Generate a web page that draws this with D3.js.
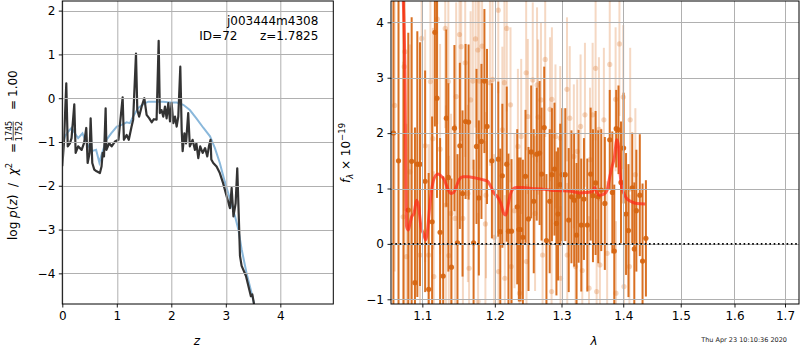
<!DOCTYPE html>
<html>
<head>
<meta charset="utf-8">
<script src="https://cdn.jsdelivr.net/npm/d3@7"></script>
<style>
body { margin: 0; background: #fff; }
text { font-family: "DejaVu Sans", sans-serif; }
</style>
</head>
<body>
<script>
// ---- p(z) panel ----
var pzZ = [0.00, 0.03, 0.073, 0.10, 0.14, 0.17, 0.22, 0.245, 0.29, 0.355, 0.40, 0.44, 0.465, 0.50, 0.52, 0.55, 0.587, 0.63, 0.69, 0.72, 0.74, 0.765, 0.795, 0.81, 0.86, 0.905, 0.966, 1.03, 1.107, 1.13, 1.18, 1.22, 1.27, 1.30, 1.352, 1.376, 1.41, 1.456, 1.505, 1.547, 1.596, 1.64, 1.68, 1.73, 1.768, 1.79, 1.82, 1.853, 1.884, 1.914, 1.945, 1.976, 2.006, 2.037, 2.068, 2.098, 2.128, 2.165, 2.19, 2.208, 2.24, 2.27, 2.31, 2.34, 2.39, 2.434, 2.46, 2.495, 2.53, 2.575, 2.62, 2.66, 2.69, 2.72, 2.734, 2.77, 2.83, 2.89, 2.95, 3.015, 3.076, 3.107, 3.14, 3.18, 3.21, 3.236, 3.26, 3.29, 3.37, 3.43, 3.46, 3.486, 3.517];
var pzLog = [-1.55, -1.02, 0.34, -1.10, -1.03, -0.91, -0.14, -1.25, -1.10, -1.18, -1.02, -0.68, -1.48, -1.25, -0.46, -1.48, -1.63, -1.67, -1.71, -1.56, -1.25, -1.33, -0.23, -1.18, -1.03, -1.10, -0.99, -0.95, 0.02, -0.95, -0.84, -0.95, -0.65, -0.49, 1.02, -0.27, -0.42, -0.19, 0.00, -0.38, -0.46, -0.55, -0.48, -0.49, 1.31, -0.34, -0.27, -0.42, -0.19, -0.46, -0.11, -0.53, -0.11, -0.57, -0.42, -0.65, -0.42, 0.72, -0.72, -1.21, -0.80, -1.03, -0.34, -1.10, -0.95, -1.18, -1.03, -1.37, -1.10, -1.25, -1.14, -1.33, -1.10, -0.95, -1.40, -1.48, -1.56, -1.71, -1.94, -2.24, -2.51, -2.05, -2.70, -2.40, -1.60, -2.62, -3.60, -3.83, -4.06, -4.37, -4.52, -4.48, -4.70];

var fitZ = [0.00, 0.05, 0.11, 0.17, 0.23, 0.29, 0.37, 0.45, 0.54, 0.62, 0.68, 0.72, 0.81, 0.90, 1.00, 1.09, 1.18, 1.24, 1.30, 1.39, 1.49, 1.58, 1.70, 1.85, 1.98, 2.10, 2.22, 2.34, 2.46, 2.59, 2.71, 2.80, 2.89, 2.98, 3.08, 3.17, 3.23, 3.29, 3.38, 3.47, 3.52];
var fitLog = [-1.10, -0.87, -0.76, -0.68, -0.80, -0.91, -0.80, -1.03, -1.21, -1.18, -1.47, -1.29, -0.95, -0.80, -0.65, -0.61, -0.55, -0.57, -0.42, -0.23, -0.13, -0.08, -0.08, -0.08, -0.10, -0.10, -0.15, -0.27, -0.46, -0.68, -0.87, -1.14, -1.48, -1.90, -2.32, -2.70, -3.00, -3.45, -3.99, -4.44, -4.70];

var zTicks = [0, 1, 2, 3, 4];
var logpTicks = [-4, -3, -2, -1, 0, 1, 2];

// ---- spectrum panel ----
var darkWave = [1.0625, 1.0690, 1.0755, 1.0816, 1.0860, 1.0903, 1.0934, 1.0969, 1.1037, 1.1084, 1.1130, 1.1167, 1.1195, 1.1237, 1.1279, 1.1321, 1.1349, 1.1391, 1.1432, 1.1474, 1.1507, 1.1544, 1.1586, 1.1628, 1.1698, 1.1739, 1.1772, 1.1809, 1.1851, 1.1888, 1.1958, 1.2050, 1.2079, 1.2109, 1.2173, 1.2198, 1.2243, 1.2327, 1.2351, 1.2376, 1.2411, 1.2450, 1.2495, 1.2535, 1.2574, 1.2619, 1.2663, 1.2693, 1.2733, 1.2767, 1.2817, 1.2851, 1.2891, 1.2921, 1.2946, 1.2980, 1.3011, 1.3059, 1.3113, 1.3156, 1.3199, 1.3237, 1.3269, 1.3312, 1.3355, 1.3409, 1.3463, 1.3500, 1.3543, 1.3586, 1.3635, 1.3694, 1.3775, 1.3818, 1.3850, 1.3882, 1.3920, 1.3962, 1.4006, 1.4047, 1.4088, 1.4152, 1.4187, 1.4222, 1.4281, 1.4328, 1.4386];
var darkFlux = [2.00, 1.50, 4.80, 0.61, 1.49, -0.70, 1.44, 1.44, 1.13, -0.82, 0.40, 3.82, 2.63, 0.21, -0.58, 2.27, 1.20, -0.42, 2.09, 0.02, 1.77, 0.91, 2.21, 2.20, 0.02, 1.76, 0.83, 1.85, 2.94, 2.12, 1.50, 1.53, 0.22, 1.23, 1.44, 0.23, 0.23, 0.67, 0.26, 0.26, 0.12, 1.22, 0.45, 1.66, 0.77, 1.62, 1.64, 1.26, 2.10, 0.06, 0.77, 1.25, 1.35, 0.37, 0.54, 1.07, 1.25, 1.25, 0.43, 0.85, 0.79, 0.16, 0.86, 0.34, 0.81, 0.34, 1.26, 0.87, 1.10, 0.85, 0.97, 0.73, 1.88, 0.93, -0.13, 2.08, 2.06, 1.11, 1.73, 0.54, 0.24, 1.01, -0.09, 0.60, 0.88, -0.31, 0.10];
var darkErr = [6.5, 6.0, 6.0, 3.2, 2.6, 2.8, 2.4, 2.2, 2.0, 2.1, 1.9, 1.7, 1.8, 1.7, 1.8, 1.6, 1.7, 1.6, 1.5, 1.6, 1.5, 1.5, 1.4, 1.4, 1.5, 1.4, 1.4, 1.4, 1.3, 1.4, 1.4, 1.4, 1.5, 1.3, 1.4, 1.4, 1.3, 1.4, 1.3, 1.3, 1.4, 1.2, 1.3, 1.2, 1.3, 1.2, 1.3, 1.2, 1.1, 1.2, 1.3, 1.2, 1.2, 1.3, 1.2, 1.1, 1.2, 1.2, 1.3, 1.2, 1.2, 1.3, 1.2, 1.2, 1.1, 1.2, 1.2, 1.2, 1.3, 1.2, 1.1, 1.2, 0.9, 1.1, 1.2, 0.7, 0.8, 1.1, 1.0, 1.1, 1.2, 1.0, 1.2, 1.1, 1.1, 1.4, 1.05];

var lightWave = [1.0640, 1.0750, 1.0763, 1.0772, 1.0794, 1.0838, 1.0969, 1.0991, 1.1037, 1.1084, 1.1107, 1.1140, 1.1153, 1.1200, 1.1237, 1.1307, 1.1316, 1.1349, 1.1355, 1.1386, 1.1442, 1.1456, 1.1502, 1.1525, 1.1549, 1.1581, 1.1618, 1.1635, 1.1656, 1.1688, 1.1725, 1.1758, 1.1762, 1.1781, 1.1818, 1.1865, 1.1874, 1.1930, 1.1967, 1.1991, 1.2050, 1.2054, 1.2109, 1.2139, 1.2145, 1.2173, 1.2228, 1.2238, 1.2287, 1.2337, 1.2361, 1.2386, 1.2460, 1.2465, 1.2485, 1.2559, 1.2594, 1.2624, 1.2640, 1.2683, 1.2708, 1.2748, 1.2822, 1.2846, 1.2851, 1.2906, 1.2980, 1.2985, 1.3086, 1.3090, 1.3129, 1.3194, 1.3220, 1.3247, 1.3301, 1.3328, 1.3371, 1.3436, 1.3452, 1.3495, 1.3543, 1.3560, 1.3597, 1.3613, 1.3678, 1.3732, 1.3775, 1.3872, 1.3878, 1.3936, 1.4000, 1.4012, 1.4104, 1.4117, 1.4205];
var lightFlux = [2.50, 0.49, 3.20, 3.47, -0.23, 1.30, -0.20, 3.71, 1.77, -0.20, 2.93, 1.90, -0.59, 4.06, 1.71, 3.89, 0.70, 2.93, -0.21, 0.55, 0.46, 2.66, 3.78, 3.56, 0.46, 3.27, 0.91, -0.44, 2.60, 2.94, 3.70, 3.50, -1.04, 2.94, 3.57, 0.36, 0.88, 2.91, 2.97, 0.12, 4.22, -0.50, 2.06, 2.91, -0.62, 3.89, 2.51, -0.41, 0.60, 1.76, -0.89, 1.94, 3.09, -0.32, 2.30, 2.96, 0.55, 2.87, 2.29, 2.60, -0.20, 3.33, 2.43, -0.86, 2.61, 1.94, 1.91, -0.62, 2.79, -0.20, 2.27, 1.58, -0.41, 1.67, 2.12, -0.48, 2.33, -0.80, 1.52, 2.33, 3.17, -0.86, 2.07, -0.38, 2.24, -0.17, 3.24, 2.61, -0.89, 3.61, 2.65, -0.77, -0.41, 2.24, 1.25];
var lightErr = [3.0, 2.8, 2.6, 2.5, 2.4, 2.3, 2.2, 2.2, 2.1, 2.0, 2.0, 2.0, 1.9, 1.9, 1.9, 1.8, 1.8, 1.8, 1.8, 1.8, 1.7, 1.7, 1.7, 1.7, 1.7, 1.7, 1.6, 1.6, 1.6, 1.6, 1.6, 1.6, 1.6, 1.6, 1.5, 1.5, 1.5, 1.5, 1.5, 1.5, 1.5, 1.5, 1.5, 1.5, 1.5, 1.5, 1.4, 1.4, 1.4, 1.4, 1.4, 1.4, 1.4, 1.4, 1.4, 1.4, 1.4, 1.4, 1.4, 1.4, 1.4, 1.4, 1.3, 1.3, 1.3, 1.3, 1.3, 1.3, 1.3, 1.3, 1.3, 1.3, 1.3, 1.3, 1.3, 1.3, 1.3, 1.3, 1.3, 1.3, 1.3, 1.3, 1.3, 1.3, 1.3, 1.3, 1.3, 1.3, 1.3, 1.3, 1.3, 1.3, 1.3, 1.3, 1.2];

var modelWave = [1.0745, 1.0772, 1.0794, 1.0816, 1.0838, 1.0860, 1.0890, 1.0925, 1.0952, 1.0982, 1.1014, 1.1047, 1.1070, 1.1098, 1.1130, 1.1167, 1.1209, 1.1246, 1.1293, 1.1339, 1.1386, 1.1423, 1.1456, 1.1502, 1.1549, 1.1618, 1.1688, 1.1758, 1.1828, 1.1897, 1.1944, 1.1991, 1.2040, 1.2089, 1.2129, 1.2158, 1.2188, 1.2223, 1.2262, 1.2312, 1.2411, 1.2535, 1.2683, 1.2832, 1.2980, 1.3140, 1.3301, 1.3409, 1.3490, 1.3527, 1.3560, 1.3597, 1.3678, 1.3732, 1.3775, 1.3812, 1.3850, 1.3893, 1.3920, 1.3946, 1.3973, 1.4012, 1.4058, 1.4144, 1.4230, 1.4374];
var modelFlux = [4.60, 3.20, 0.31, 0.25, 0.37, 0.49, 0.55, 0.79, 0.67, 0.31, 0.19, 0.07, 0.25, 0.67, 1.03, 1.21, 1.26, 1.23, 1.16, 1.00, 0.91, 0.93, 1.03, 1.17, 1.21, 1.21, 1.20, 1.18, 1.16, 1.13, 1.03, 0.91, 0.85, 0.73, 0.55, 0.52, 0.67, 0.88, 0.99, 1.02, 1.02, 1.00, 0.99, 0.97, 0.96, 0.95, 0.92, 0.93, 0.94, 1.02, 0.94, 0.88, 0.90, 0.97, 1.21, 1.39, 1.55, 1.88, 1.76, 1.28, 1.03, 0.91, 0.82, 0.76, 0.73, 0.72];

var waveTicks = [1.1, 1.2, 1.3, 1.4, 1.5, 1.6, 1.7];
var fluxTicks = [-1, 0, 1, 2, 3, 4];

var orange = "#d6640f";

var svg = d3.select("body").append("svg")
    .attr("width", 800)
    .attr("height", 350);

function styleAxis(g)
{
  g.attr("font-family", "DejaVu Sans, sans-serif").attr("font-size", 12);
  g.select(".domain").remove();
  g.selectAll(".tick line").attr("stroke", "#000").attr("stroke-width", 0.9);
  g.selectAll(".tick text").attr("fill", "#000");
}

// ================= left panel =================
var lp = { left: 62.3, top: 1, width: 271, height: 303 };

var gl = svg.append("g")
    .attr("transform", "translate(" + lp.left + "," + lp.top + ")");

var x1 = d3.scaleLinear().domain([0, 4.972]).range([0, lp.width]);
var y1 = d3.scaleLinear().domain([-4.70, 2.22]).range([lp.height, 0]);

gl.append("clipPath").attr("id", "clipL")
    .append("rect").attr("width", lp.width).attr("height", lp.height);

var plotL = gl.append("g").attr("clip-path", "url(#clipL)");

var lineL = d3.line()
    .x(function(d) { return x1(d[0]); })
    .y(function(d) { return y1(d[1]); });

plotL.append("path")
    .datum(d3.zip(fitZ, fitLog))
    .attr("d", lineL)
    .attr("fill", "none")
    .attr("stroke", "#8ab8db")
    .attr("stroke-width", 2);

plotL.append("path")
    .datum(d3.zip(pzZ, pzLog))
    .attr("d", lineL)
    .attr("fill", "none")
    .attr("stroke", "#333")
    .attr("stroke-width", 2.2)
    .attr("stroke-linejoin", "round");

// grid
gl.selectAll(".gx").data(zTicks).enter().append("line")
    .attr("x1", function(d) { return Math.round(x1(d)) + 0.5; })
    .attr("x2", function(d) { return Math.round(x1(d)) + 0.5; })
    .attr("y1", 0).attr("y2", lp.height)
    .attr("stroke", "#b0b0b0").attr("stroke-width", 1);
gl.selectAll(".gy").data(logpTicks).enter().append("line")
    .attr("y1", function(d) { return Math.round(y1(d)) + 0.5; })
    .attr("y2", function(d) { return Math.round(y1(d)) + 0.5; })
    .attr("x1", 0).attr("x2", lp.width)
    .attr("stroke", "#b0b0b0").attr("stroke-width", 1);

gl.append("g")
    .attr("transform", "translate(0," + lp.height + ")")
    .call(d3.axisBottom(x1).tickValues(zTicks).tickSize(3.5).tickPadding(3.5).tickFormat(d3.format("d")))
    .call(styleAxis);

gl.append("g")
    .call(d3.axisLeft(y1).tickValues(logpTicks).tickSize(3.5).tickPadding(3.5).tickFormat(d3.format("d")))
    .call(styleAxis);

gl.append("rect")
    .attr("width", lp.width).attr("height", lp.height)
    .attr("fill", "none").attr("stroke", "#000").attr("stroke-width", 1);

gl.append("text")
    .attr("x", 256).attr("y", 24)
    .attr("text-anchor", "end").attr("font-size", 12)
    .text("j003444m4308");
gl.append("text")
    .attr("x", 137).attr("y", 38.5)
    .attr("font-size", 12)
    .text("ID=72");
gl.append("text")
    .attr("x", 256).attr("y", 38.5)
    .attr("text-anchor", "end").attr("font-size", 12)
    .text("z=1.7825");

// x label
svg.append("text")
    .attr("x", 197).attr("y", 345)
    .attr("text-anchor", "middle").attr("font-size", 12)
    .attr("font-style", "italic")
    .text("z");

// y label (rotated, with fraction)
var yl = svg.append("g").attr("transform", "translate(17,240) rotate(-90)");
var t1 = yl.append("text").attr("x", 0).attr("y", 0).attr("font-size", 12)
    .attr("xml:space", "preserve");
t1.append("tspan").text("log ");
t1.append("tspan").attr("font-style", "italic").text("p");
t1.append("tspan").text("(");
t1.append("tspan").attr("font-style", "italic").text("z");
t1.append("tspan").text(")  /  ");
t1.append("tspan").attr("font-style", "italic").text("\u03c7");
t1.append("tspan").attr("font-size", 8.5).attr("dy", -5).text("2");
yl.append("text").attr("x", 87).attr("y", 0).attr("font-size", 12).text("=");
yl.append("text").attr("x", 109).attr("y", -5.5).attr("font-size", 8)
    .attr("text-anchor", "middle").text("1745");
yl.append("text").attr("x", 109).attr("y", 4.5).attr("font-size", 8)
    .attr("text-anchor", "middle").text("1752");
yl.append("line")
    .attr("x1", 99.5).attr("x2", 118.5)
    .attr("y1", -3.8).attr("y2", -3.8)
    .attr("stroke", "#000").attr("stroke-width", 0.7);
yl.append("text").attr("x", 130).attr("y", 0).attr("font-size", 12).text("=");
yl.append("text").attr("x", 143).attr("y", 0).attr("font-size", 12).text("1.00");

// ================= right panel =================
var rp = { left: 391, top: 1, width: 408, height: 303 };

var gr = svg.append("g")
    .attr("transform", "translate(" + rp.left + "," + rp.top + ")");

var x2 = d3.scaleLog().domain([1.0594, 1.7288]).range([0, rp.width]);
var y2 = d3.scaleLinear().domain([-1.085, 4.385]).range([rp.height, 0]);

gr.append("clipPath").attr("id", "clipR")
    .append("rect").attr("width", rp.width).attr("height", rp.height);

var plotR = gr.append("g").attr("clip-path", "url(#clipR)");

function errSeries(waves, flux, err, opacity)
{
  var data = d3.zip(waves, flux, err);
  var g = plotR.append("g");
  g.selectAll("line").data(data).enter().append("line")
      .attr("x1", function(d) { return x2(d[0]); })
      .attr("x2", function(d) { return x2(d[0]); })
      .attr("y1", function(d) { return y2(d[1] - d[2]); })
      .attr("y2", function(d) { return y2(d[1] + d[2]); })
      .attr("stroke", orange)
      .attr("stroke-opacity", opacity)
      .attr("stroke-width", 2);
  g.selectAll("circle").data(data).enter().append("circle")
      .attr("cx", function(d) { return x2(d[0]); })
      .attr("cy", function(d) { return y2(d[1]); })
      .attr("r", 2.6)
      .attr("fill", orange)
      .attr("fill-opacity", opacity);
}

errSeries(lightWave, lightFlux, lightErr, 0.25);
errSeries(darkWave, darkFlux, darkErr, 0.92);

// grid
gr.selectAll(".gx").data(waveTicks).enter().append("line")
    .attr("x1", function(d) { return Math.round(x2(d)) + 0.5; })
    .attr("x2", function(d) { return Math.round(x2(d)) + 0.5; })
    .attr("y1", 0).attr("y2", rp.height)
    .attr("stroke", "#b0b0b0").attr("stroke-width", 1);
gr.selectAll(".gy").data(fluxTicks).enter().append("line")
    .attr("y1", function(d) { return Math.round(y2(d)) + 0.5; })
    .attr("y2", function(d) { return Math.round(y2(d)) + 0.5; })
    .attr("x1", 0).attr("x2", rp.width)
    .attr("stroke", "#b0b0b0").attr("stroke-width", 1);

plotR.append("path")
    .datum(d3.zip(modelWave, modelFlux))
    .attr("d", d3.line().curve(d3.curveMonotoneX)
        .x(function(d) { return x2(d[0]); })
        .y(function(d) { return y2(d[1]); }))
    .attr("fill", "none")
    .attr("stroke", "#ff2515")
    .attr("stroke-opacity", 0.7)
    .attr("stroke-width", 3);

gr.append("line")
    .attr("x1", 0).attr("x2", rp.width)
    .attr("y1", y2(0)).attr("y2", y2(0))
    .attr("stroke", "#000")
    .attr("stroke-width", 1.6)
    .attr("stroke-dasharray", "1.6,2.7");

gr.append("g")
    .attr("transform", "translate(0," + rp.height + ")")
    .call(d3.axisBottom(x2).tickValues(waveTicks).tickSize(3.5).tickPadding(3.5).tickFormat(d3.format(".1f")))
    .call(styleAxis);

gr.append("g")
    .call(d3.axisLeft(y2).tickValues(fluxTicks).tickSize(3.5).tickPadding(3.5).tickFormat(d3.format("d")))
    .call(styleAxis);

gr.append("rect")
    .attr("width", rp.width).attr("height", rp.height)
    .attr("fill", "none").attr("stroke", "#000").attr("stroke-width", 1);

svg.append("text")
    .attr("x", 594).attr("y", 345)
    .attr("text-anchor", "middle").attr("font-size", 12)
    .attr("font-style", "italic")
    .text("\u03bb");

var yr = svg.append("text")
    .attr("transform", "translate(350,153) rotate(-90)")
    .attr("text-anchor", "middle")
    .attr("font-size", 12);
yr.append("tspan").attr("font-style", "italic").text("f");
yr.append("tspan").attr("font-size", 8.5).attr("font-style", "italic").attr("dy", 3).text("\u03bb");
yr.append("tspan").attr("dy", -3).text(" \u00d7 10");
yr.append("tspan").attr("font-size", 8.5).attr("dy", -5).text("\u221219");

svg.append("text")
    .attr("x", 787).attr("y", 342)
    .attr("text-anchor", "end")
    .attr("font-size", 6.5)
    .attr("fill", "#222")
    .text("Thu Apr 23 10:10:36 2020");
</script>
</body>
</html>
